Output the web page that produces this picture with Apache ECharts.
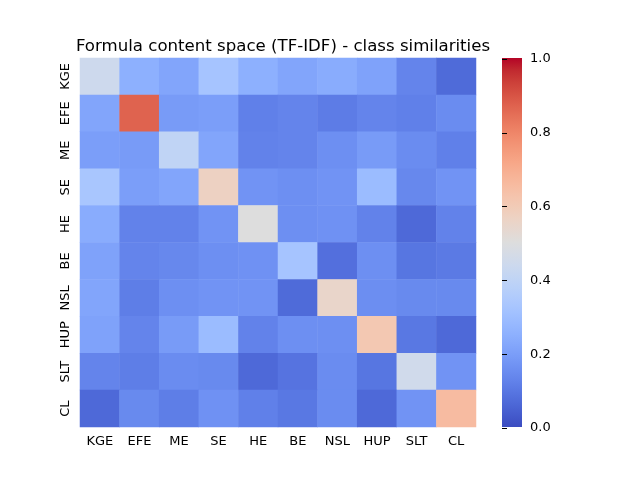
<!DOCTYPE html>
<html>
<head>
<meta charset="utf-8">
<script src="https://cdn.jsdelivr.net/npm/echarts@6/dist/echarts.min.js"></script>
<style>
  html, body { margin: 0; padding: 0; background: #fff; }
  #main { width: 640px; height: 480px; }
</style>
</head>
<body>
<div id="main"></div>
<script>
// class labels, same order on both axes
var classes = ['KGE', 'EFE', 'ME', 'SE', 'HE', 'BE', 'NSL', 'HUP', 'SLT', 'CL'];

// similarity rows, one per class
var rowKGE = [0.44, 0.25, 0.22, 0.32, 0.25, 0.22, 0.24, 0.21, 0.13, 0.07];
var rowEFE = [0.22, 0.87, 0.19, 0.20, 0.12, 0.13, 0.11, 0.13, 0.12, 0.15];
var rowME  = [0.20, 0.19, 0.40, 0.22, 0.125, 0.13, 0.16, 0.19, 0.15, 0.12];
var rowSE  = [0.33, 0.20, 0.22, 0.57, 0.17, 0.16, 0.17, 0.29, 0.14, 0.17];
var rowHE  = [0.24, 0.125, 0.125, 0.17, 0.50, 0.16, 0.165, 0.125, 0.065, 0.125];
var rowBE  = [0.21, 0.13, 0.14, 0.16, 0.165, 0.32, 0.08, 0.16, 0.095, 0.105];
var rowNSL = [0.22, 0.115, 0.16, 0.17, 0.17, 0.07, 0.55, 0.155, 0.145, 0.145];
var rowHUP = [0.21, 0.13, 0.19, 0.29, 0.125, 0.16, 0.16, 0.61, 0.10, 0.065];
var rowSLT = [0.13, 0.115, 0.15, 0.145, 0.065, 0.09, 0.15, 0.095, 0.45, 0.17];
var rowCL  = [0.065, 0.145, 0.115, 0.165, 0.12, 0.10, 0.15, 0.065, 0.17, 0.655];

var rows = [rowKGE, rowEFE, rowME, rowSE, rowHE, rowBE, rowNSL, rowHUP, rowSLT, rowCL];

// colour bar ticks
var barTicks = [0.0, 0.2, 0.4, 0.6, 0.8, 1.0];

// coolwarm
var coolwarm = [
  '#3b4cc0', '#445acc', '#4d68d7', '#5775e1', '#6282ea', '#6c8ef1', '#779af7', '#82a5fb',
  '#8db0fe', '#98b9ff', '#a3c2ff', '#aec9fd', '#b8d0f9', '#c2d5f4', '#ccd9ee', '#d5dbe6',
  '#dddddd', '#e5d8d1', '#ecd3c5', '#f1ccb8', '#f5c4ad', '#f7bba0', '#f7b194', '#f7a687',
  '#f49a7b', '#f18d6f', '#ec7f63', '#e57058', '#de604d', '#d55042', '#cb3e38', '#c0282f',
  '#b40426'
];

var cells = [];
rows.forEach(function (r, y) {
  r.forEach(function (v, x) {
    cells.push([x, y, v]);
  });
});

// colour bar fill, bottom (0) to top (1)
var barStops = coolwarm.map(function (c, i) {
  return { offset: 1 - i / (coolwarm.length - 1), color: c };
}).reverse();

var font = 'DejaVu Sans';
var myChart = echarts.init(document.getElementById('main'));

var option = {
  backgroundColor: '#fff',
  animation: false,
  title: {
    text: 'Formula content space (TF-IDF) - class similarities',
    left: 278,
    top: 33,
    textAlign: 'center',
    textStyle: { fontFamily: font, fontSize: 16.6, fontWeight: 'normal', color: '#000' }
  },
  grid: [
    { left: 80, right: 164, top: 58, bottom: 53 },
    { left: 502, width: 20, top: 59, bottom: 52 }
  ],
  xAxis: [
    {
      type: 'category', gridIndex: 0, data: classes,
      axisLine: { show: false },
      axisTick: { alignWithLabel: true, length: 5, lineStyle: { color: '#000' } },
      axisLabel: { fontFamily: font, fontSize: 13, color: '#000', margin: 8, interval: 0 },
      splitLine: { show: false }
    },
    { type: 'value', gridIndex: 1, show: false, min: 0, max: 1 }
  ],
  yAxis: [
    {
      type: 'category', gridIndex: 0, data: classes, inverse: true,
      axisLine: { show: false },
      axisTick: { alignWithLabel: true, length: 5, lineStyle: { color: '#000' } },
      axisLabel: { fontFamily: font, fontSize: 13, color: '#000', rotate: 90, margin: 8, interval: 0 },
      splitLine: { show: false }
    },
    {
      type: 'value', gridIndex: 1, position: 'right', min: 0, max: 1, interval: 0.2,
      axisLine: { show: false },
      axisTick: { show: true, length: 5, lineStyle: { color: '#000' } },
      axisLabel: {
        fontFamily: font, fontSize: 13, color: '#000', margin: 8,
        formatter: function (v) {
          var t = barTicks.find(function (b) { return Math.abs(b - v) < 1e-6; });
          return t === undefined ? '' : t.toFixed(1);
        }
      },
      splitLine: { show: false }
    }
  ],
  visualMap: {
    type: 'continuous',
    show: false,
    min: 0, max: 1,
    seriesIndex: 0,
    inRange: { color: coolwarm }
  },
  graphic: [
    {
      type: 'rect',
      shape: { x: 502, y: 58, width: 20, height: 369 },
      style: {
        fill: new echarts.graphic.LinearGradient(0, 1, 0, 0,
          coolwarm.map(function (c, i) {
            return { offset: i / (coolwarm.length - 1), color: c };
          }))
      },
      silent: true
    }
  ],
  series: [
    {
      type: 'heatmap',
      xAxisIndex: 0, yAxisIndex: 0,
      data: cells,
      itemStyle: { borderWidth: 0 },
      emphasis: { disabled: true }
    }
  ]
};

myChart.setOption(option);
</script>
</body>
</html>
